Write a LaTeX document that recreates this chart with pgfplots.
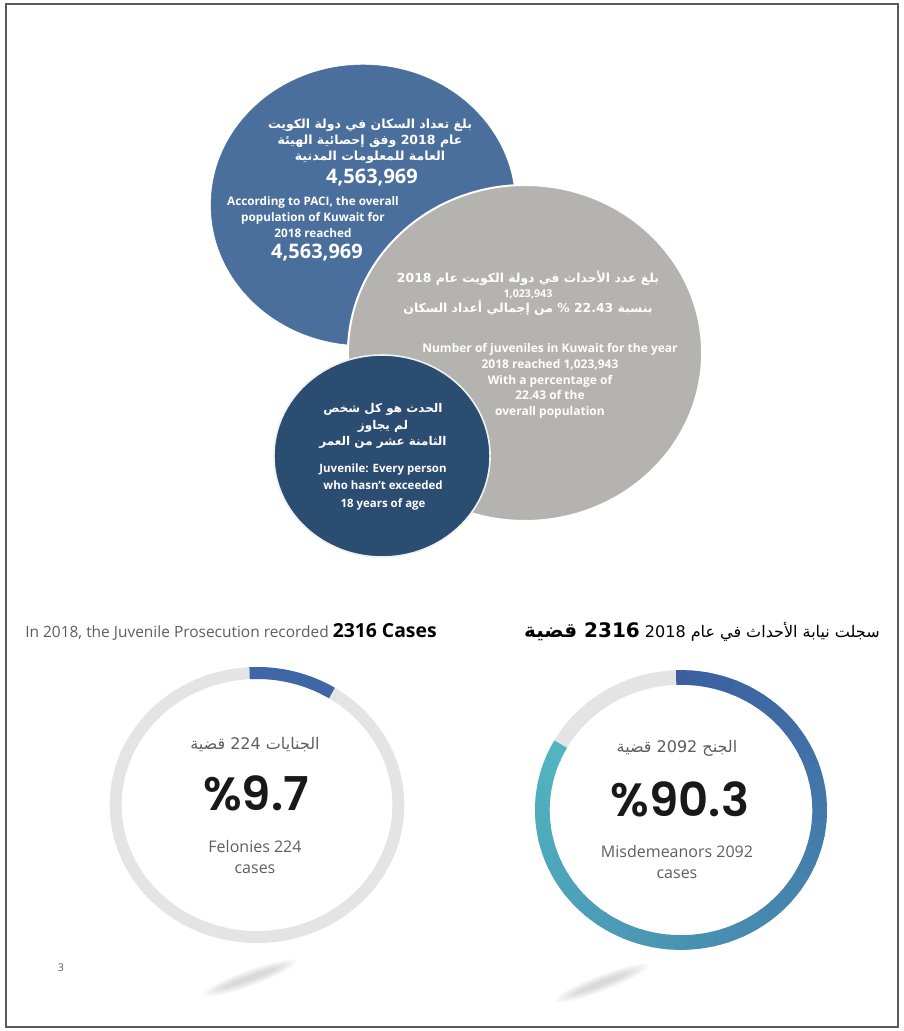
\documentclass[border=0pt]{standalone}
\usepackage{pgfplots}
\pgfplotsset{compat=1.18}
\usepackage{fontspec}
\setmainfont{Open Sans}
\newfontfamily\arabicfont[Script=Arabic]{DejaVu Sans}
\newfontfamily\popfont{Poppins SemiBold}
\TeXXeTstate=1
\newcommand\ar[1]{{\arabicfont\beginR #1\endR}}
\definecolor{bubBlue}{HTML}{4A6F9C}
\definecolor{bubGray}{HTML}{B4B3AF}
\definecolor{bubDark}{HTML}{2C4D72}
\definecolor{ringGray}{HTML}{E4E4E4}
\definecolor{arcBlue}{HTML}{3F66A6}
\definecolor{gradBlue}{HTML}{3C5FA0}
\definecolor{gradTeal}{HTML}{52B6C0}
\definecolor{frameGray}{HTML}{5A5A5A}
\definecolor{txtGray}{HTML}{5E5E5E}
\begin{document}
\begin{tikzpicture}
\begin{axis}[x=0.75pt, y=0.75pt, xmin=0, xmax=903, ymin=0, ymax=1031,
  y dir=reverse, hide axis, clip=false, set layers]
\path[draw=none] (axis cs:0,0) rectangle (axis cs:903,1031);
% frame
\draw[color=frameGray, line width=1.1pt] (axis cs:6,4) rectangle (axis cs:898,1027);

% bubbles
\addplot[only marks, mark=*, mark size=105pt,
  mark options={fill=bubBlue, draw=bubBlue, xscale=1.085}] coordinates {(363,205)};
\addplot[only marks, mark=*, mark size=126pt,
  mark options={fill=bubGray, draw=white, line width=1.5pt, xscale=1.054}] coordinates {(525,353)};
\addplot[only marks, mark=*, mark size=75.75pt,
  mark options={fill=bubDark, draw=white!80!bubGray, line width=1.2pt, xscale=1.07}] coordinates {(382,456)};

\begin{pgfonlayer}{axis foreground}
% blue bubble text
\node[text=white, font=\bfseries\fontsize{9.4}{12}\selectfont, align=center] at (axis cs:370,141)
  {\ar{بلغ تعداد السكان في دولة الكويت}\\ \ar{عام 2018 وفق إحصائية الهيئة}\\ \ar{العامة للمعلومات المدنية}};
\node[text=white, font=\bfseries\fontsize{15}{17}\selectfont] at (axis cs:372,178) {4,563,969};
\node[text=white, font=\bfseries\fontsize{8.8}{12}\selectfont, align=center] at (axis cs:313,217)
  {According to PACI, the overall\\ population of Kuwait for\\ 2018 reached};
\node[text=white, font=\bfseries\fontsize{15}{17}\selectfont] at (axis cs:317,253) {4,563,969};

% gray bubble text
\node[text=white, font=\bfseries\fontsize{9.3}{11.3}\selectfont, align=center] at (axis cs:528,293)
  {\ar{بلغ عدد الأحداث في دولة الكويت عام 2018}\\ {\fontsize{8}{11.3}\selectfont 1,023,943}\\ \ar{بنسبة 22.43 \% من إجمالي أعداد السكان}};
\node[text=white, font=\bfseries\fontsize{9}{11.8}\selectfont, align=center] at (axis cs:550,381)
  {Number of juveniles in Kuwait for the year\\ 2018 reached 1,023,943\\ With a percentage of\\ 22.43 of the\\ overall population};

% dark bubble text
\node[text=white, font=\bfseries\fontsize{9}{12.5}\selectfont, align=center] at (axis cs:383,426)
  {\ar{الحدث هو كل شخص}\\ \ar{لم يجاوز}\\ \ar{الثامنة عشر من العمر}};
\node[text=white, font=\bfseries\fontsize{8.6}{13}\selectfont, align=center] at (axis cs:383,487)
  {Juvenile: Every person\\ who hasn't exceeded\\ 18 years of age};
\end{pgfonlayer}

% headers
\node[anchor=west, text=txtGray, font=\fontsize{11.6}{13}\selectfont, inner sep=0pt] at (axis cs:25,632)
  {In 2018, the Juvenile Prosecution recorded {\color{black}\bfseries\fontsize{14.5}{15}\selectfont 2316 Cases}};
\node[anchor=east, text=txtGray, font=\fontsize{12}{13}\selectfont, inner sep=0pt] at (axis cs:880,632)
  {{\arabicfont\beginR سجلت نيابة الأحداث في عام 2018 {\color{black}\bfseries\fontsize{15}{15}\selectfont 2316 قضية}\endR}};

% left donut (felonies 224 = 9.7%)
\draw[ringGray, line width=9pt] (axis cs:257,805) ellipse [x radius=106pt, y radius=99pt];
\draw[arcBlue, line width=9pt, shift={(axis cs:257,805)}] (93:106pt and 99pt)
  arc[start angle=93, end angle=58, x radius=106pt, y radius=99pt];

% right donut (misdemeanors 2092 = 90.3%)
\draw[ringGray, line width=11pt] (axis cs:681,810) ellipse [x radius=104pt, y radius=99.4pt];
\pgfplotsinvokeforeach{0,2,...,98}{
  \draw[color=gradTeal!#1!gradBlue, line width=11pt, shift={(axis cs:681,810)}]
    ({92-3.01*#1}:104pt and 99.4pt)
    arc[start angle={92-3.01*#1}, end angle={92-3.01*#1-6.8}, x radius=104pt, y radius=99.4pt];
}

% donut texts
\node[text=txtGray, font=\fontsize{12}{13}\selectfont] at (axis cs:255,745) {\ar{الجنايات 224 قضية}};
\node[text=black!90, font=\popfont\fontsize{35}{40}\selectfont] at (axis cs:256,793) {\%9.7};
\node[text=txtGray, font=\fontsize{12}{16}\selectfont, align=center] at (axis cs:255,857) {Felonies 224\\ cases};

\node[text=txtGray, font=\fontsize{12}{13}\selectfont] at (axis cs:677,748) {\ar{الجنح 2092 قضية}};
\node[text=black!90, font=\popfont\fontsize{35}{40}\selectfont] at (axis cs:680,799) {\%90.3};
\node[text=txtGray, font=\fontsize{12}{15.5}\selectfont, align=center] at (axis cs:677,862) {Misdemeanors 2092\\ cases};

% shadows
\pgfplotsinvokeforeach{0,1,2,3,4}{
  \fill[black, opacity=0.03, shift={(axis cs:250,978)}, rotate=20] (0pt,0pt)
    ellipse [x radius={(37-4*#1)*1pt}, y radius={(6-1*#1)*1pt}];
  \fill[black, opacity=0.03, shift={(axis cs:602,983)}, rotate=21] (0pt,0pt)
    ellipse [x radius={(37-4*#1)*1pt}, y radius={(6-1*#1)*1pt}];
}

% page number
\node[text=txtGray, font=\fontsize{8}{9}\selectfont] at (axis cs:61,968) {3};
\end{axis}
\end{tikzpicture}
\end{document}
